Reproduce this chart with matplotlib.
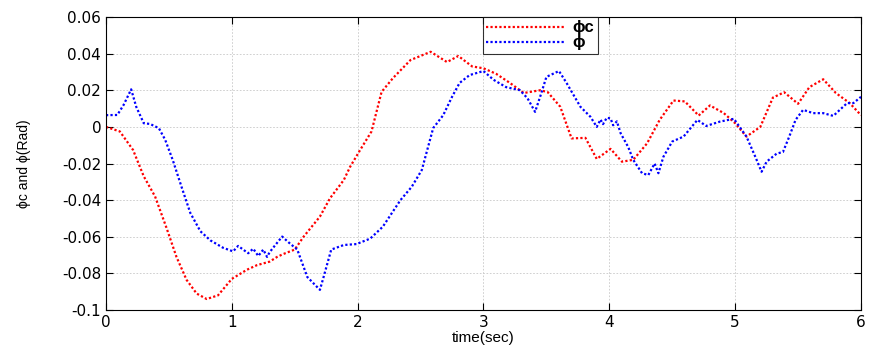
import matplotlib.pyplot as plt

plt.rcParams['font.family'] = ['Liberation Sans', 'DejaVu Sans']

# phi_c (command)
t_phic = [0.0, 0.11, 0.215, 0.30, 0.39, 0.48, 0.56, 0.64, 0.72, 0.80, 0.89, 1.0,
          1.12, 1.20, 1.30, 1.36, 1.41, 1.50, 1.57, 1.70, 1.78, 1.89, 1.94, 2.02,
          2.11, 2.19, 2.28, 2.42, 2.58, 2.71, 2.80, 2.91, 3.0, 3.10, 3.21, 3.32,
          3.45, 3.51, 3.61, 3.70, 3.81, 3.90, 4.01, 4.10, 4.19, 4.30, 4.40, 4.51,
          4.60, 4.71, 4.80, 4.91, 5.0, 5.09, 5.20, 5.30, 5.39, 5.50, 5.59, 5.70,
          5.80, 5.91, 6.0]
phic = [0.0, -0.0025, -0.0126, -0.027, -0.038, -0.055, -0.071, -0.0835, -0.091,
        -0.094, -0.092, -0.083, -0.078, -0.0755, -0.0736, -0.071, -0.0694, -0.067,
        -0.060, -0.049, -0.039, -0.029, -0.0218, -0.0126, -0.0025, 0.0191, 0.0266,
        0.0365, 0.041, 0.0354, 0.0387, 0.033, 0.032, 0.029, 0.024, 0.0185, 0.020,
        0.019, 0.011, -0.0063, -0.006, -0.0175, -0.012, -0.019, -0.018, -0.009,
        0.0038, 0.0144, 0.0139, 0.0062, 0.0117, 0.0075, 0.002, -0.0053, 0.0,
        0.016, 0.0189, 0.0126, 0.0217, 0.026, 0.0185, 0.013, 0.0064]

t_phi = [0.0, 0.09, 0.14, 0.20, 0.24, 0.30, 0.35, 0.42, 0.47, 0.53, 0.60, 0.67,
         0.75, 0.83, 0.93, 1.01, 1.05, 1.09, 1.13, 1.17, 1.21, 1.25, 1.28, 1.30,
         1.34, 1.40, 1.45, 1.52, 1.60, 1.70, 1.73, 1.79, 1.89, 1.99, 2.10, 2.20,
         2.34, 2.43, 2.51, 2.60, 2.68, 2.75, 2.81, 2.89, 3.0, 3.08, 3.18, 3.29,
         3.35, 3.41, 3.45, 3.50, 3.60, 3.66, 3.77, 3.85, 3.90, 3.93, 3.95, 3.98,
         4.01, 4.03, 4.06, 4.09, 4.15, 4.19, 4.26, 4.31, 4.36, 4.39, 4.43, 4.50,
         4.59, 4.70, 4.77, 4.88, 4.99, 5.09, 5.16, 5.21, 5.25, 5.33, 5.38, 5.43,
         5.48, 5.54, 5.62, 5.70, 5.78, 5.89, 5.94, 6.0]
phi = [0.0064, 0.0065, 0.012, 0.0205, 0.011, 0.002, 0.0016, -0.0007, -0.007,
       -0.018, -0.0327, -0.047, -0.057, -0.062, -0.066, -0.068, -0.065, -0.067,
       -0.069, -0.0665, -0.0705, -0.067, -0.071, -0.0685, -0.065, -0.0599,
       -0.063, -0.067, -0.082, -0.089, -0.0818, -0.067, -0.0645, -0.064, -0.061,
       -0.0545, -0.040, -0.0327, -0.0235, -0.0007, 0.0064, 0.0164, 0.024, 0.0283,
       0.0305, 0.0257, 0.0217, 0.020, 0.0156, 0.0082, 0.0164, 0.0273, 0.0305,
       0.024, 0.011, 0.0055, 0.0, 0.004, 0.0015, 0.005, 0.0046, 0.0009, 0.003,
       -0.0035, -0.011, -0.018, -0.0253, -0.0263, -0.020, -0.0253, -0.0163,
       -0.008, -0.0053, 0.0038, 0.0005, 0.0029, 0.0044, -0.0053, -0.0163,
       -0.0245, -0.019, -0.0146, -0.0137, -0.0053, 0.0038, 0.0093, 0.0075,
       0.0075, 0.006, 0.013, 0.013, 0.0164]

yticks = [-0.1, -0.08, -0.06, -0.04, -0.02, 0, 0.02, 0.04, 0.06]
ytick_labels = ['-0.1', '-0.08', '-0.06', '-0.04', '-0.02', '0', '0.02', '0.04', '0.06']

fig = plt.figure(figsize=(8.71, 3.52), dpi=100)
ax = fig.add_axes([0.1217, 0.1193, 0.8668, 0.8324])

ax.plot(t_phic, phic, color='red', linestyle=(0, (1, 1)), linewidth=1.6, label='\u03d5c')
ax.plot(t_phi, phi, color='blue', linestyle=(0, (1, 1)), linewidth=1.6, label='\u03d5')

ax.set_xlim(0, 6)
ax.set_ylim(-0.1, 0.06)
ax.set_xticks(range(7))
ax.set_yticks(yticks)
ax.set_yticklabels(ytick_labels)
ax.tick_params(direction='in', top=True, right=True, length=5)
for lab in ax.get_xticklabels() + ax.get_yticklabels():
    lab.set_family(['DejaVu Sans'])
    lab.set_fontsize(11)
ax.grid(True, color='#c8c8c8', linestyle=(0, (2, 2)), linewidth=0.6)
for spine in ax.spines.values():
    spine.set_linewidth(0.8)

ax.set_xlabel('time(sec)', fontsize=11, labelpad=1)
ax.set_ylabel('\u03d5c and \u03d5(Rad)', fontsize=10, labelpad=22,
              family=['Liberation Sans Narrow', 'Liberation Sans', 'DejaVu Sans'])

leg = ax.legend(loc='upper left', bbox_to_anchor=(0.499, 1.0),
                prop={'size': 12, 'weight': 'bold'},
                handlelength=4.8, frameon=True, fancybox=False, borderaxespad=0,
                borderpad=0.2, labelspacing=0.0, handletextpad=0.4)
leg.get_frame().set_edgecolor('black')
leg.get_frame().set_linewidth(0.8)

fig.savefig('out.png', dpi=100)
